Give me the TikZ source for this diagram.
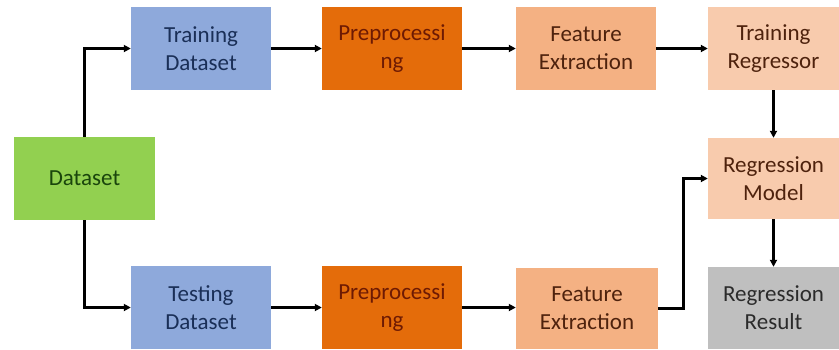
\documentclass[tikz,border=0pt]{standalone}
\usepackage{fontspec}
\setmainfont{Carlito}
\usetikzlibrary{arrows.meta}
\definecolor{cgreen}{HTML}{92D050}
\definecolor{cblue}{HTML}{8EA9DB}
\definecolor{corange}{HTML}{E46C0A}
\definecolor{clorange}{HTML}{F4B183}
\definecolor{cpeach}{HTML}{F8CBAD}
\definecolor{cgray}{HTML}{BFBFBF}
\definecolor{tgreen}{HTML}{1A450C}
\definecolor{tblue}{HTML}{1A2F57}
\definecolor{tred}{HTML}{6E1A03}
\definecolor{tbrown}{HTML}{4E220D}
\definecolor{tgray}{HTML}{2B2B2B}
\begin{document}
\begin{tikzpicture}[x=1pt,y=-1pt,
  box/.style={minimum width=140pt,minimum height=83pt,inner sep=0pt,align=center,
    font=\fontsize{23}{28}\selectfont},
  conn/.style={line width=2.6pt,-{Triangle[length=7pt,width=7pt]}}]
\useasboundingbox (0,0) rectangle (839,349);
\node[box,fill=cgreen,text=tgreen,minimum width=141pt] (ds) at (84.5,178.5) {Dataset};
\node[box,fill=cblue,text=tblue] (trd) at (201,48.5) {Training\\Dataset};
\node[box,fill=cblue,text=tblue] (ted) at (201,307.5) {Testing\\Dataset};
\node[box,fill=corange,text=tred] (pp1) at (392,48.5) {Preprocessi\\ng};
\node[box,fill=corange,text=tred] (pp2) at (392,307.5) {Preprocessi\\ng};
\node[box,fill=clorange,text=tbrown] (fe1) at (586,48.5) {Feature\\Extraction};
\node[box,fill=clorange,text=tbrown,minimum width=142pt,minimum height=81pt] (fe2) at (587,308.5) {Feature\\Extraction};
\node[box,fill=cpeach,text=tbrown,minimum width=131pt] (tr) at (773.5,48.5) {Training\\Regressor};
\node[box,fill=cpeach,text=tbrown,minimum width=131pt,minimum height=81pt] (rm) at (773.5,178.5) {Regression\\Model};
\node[box,fill=cgray,text=tgray,minimum width=131pt,minimum height=82pt] (rr) at (773.5,308) {Regression\\Result};
\draw[conn] (ds.north) |- (trd.west);
\draw[conn] (ds.south) |- (ted.west);
\draw[conn] (trd) -- (pp1);
\draw[conn] (ted) -- (pp2);
\draw[conn] (pp1) -- (fe1);
\draw[conn] (pp2.east |- ted.east) -- (fe2.west |- ted.east);
\draw[conn] (fe1) -- (tr);
\draw[conn] (tr) -- (rm);
\draw[conn] (rm) -- (rr);
\draw[conn] (fe2.east) -- ++(25,0) |- (rm.west);
\end{tikzpicture}
\end{document}
